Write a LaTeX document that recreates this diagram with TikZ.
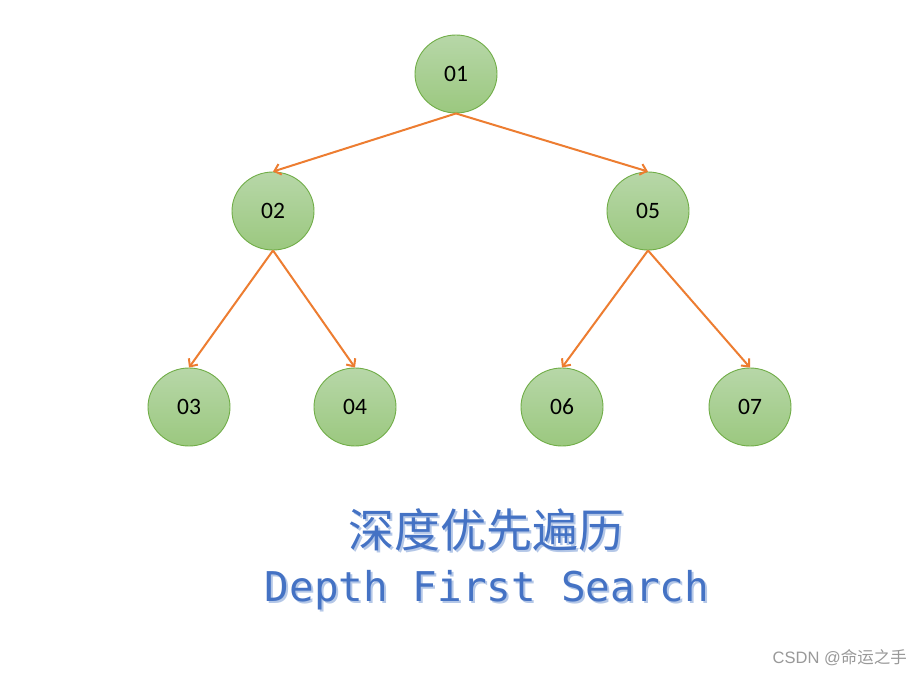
\documentclass[tikz,border=0pt]{standalone}
\usepackage{fontspec}
\setmainfont{Carlito}
\newfontfamily\cjkfont{Noto Sans CJK SC}
\newfontfamily\monofont{DejaVu Sans Mono}
\newfontfamily\wmfont{Liberation Sans}
\usetikzlibrary{shapes.geometric,arrows.meta}
\definecolor{nodetop}{HTML}{B7D7A8}
\definecolor{nodebot}{HTML}{9BC87F}
\definecolor{nodeline}{HTML}{70AD47}
\definecolor{edgecol}{HTML}{ED7D31}
\definecolor{titleblue}{HTML}{4472C4}
\definecolor{shadowblue}{HTML}{B4C7E7}
\definecolor{wmgray}{HTML}{999999}
\newcommand{\shadowtext}[1]{\rlap{\kern2pt\raisebox{-2pt}{\textcolor{shadowblue}{#1}}}\textcolor{titleblue}{#1}}
\tikzset{
  treenode/.style={ellipse, minimum width=82pt, minimum height=78pt, inner sep=0pt,
    top color=nodetop, bottom color=nodebot, draw=nodeline, line width=0.9pt,
    font=\fontsize{23.5}{23.5}\selectfont, text=black},
  edge/.style={draw=edgecol, line width=2pt, -{Straight Barb[length=6pt,width=11pt,line width=2pt]}},
  titlecn/.style={font=\cjkfont\fontsize{46}{46}\selectfont, inner sep=0pt},
  titleen/.style={font=\monofont\fontsize{41}{41}\selectfont, inner sep=0pt},
}
\begin{document}
\begin{tikzpicture}[x=1pt,y=-1pt]
\useasboundingbox[fill=white] (0,0) rectangle (923,676);
\node[treenode] (n01) at (456,74) {01};
\node[treenode] (n02) at (273,211) {02};
\node[treenode] (n05) at (648,211) {05};
\node[treenode] (n03) at (189,407) {03};
\node[treenode] (n04) at (355,407) {04};
\node[treenode] (n06) at (562,407) {06};
\node[treenode] (n07) at (750,407) {07};
\draw[edge] (n01.south) -- (n02.north);
\draw[edge] (n01.south) -- (n05.north);
\draw[edge] (n02.south) -- (n03.north);
\draw[edge] (n02.south) -- (n04.north);
\draw[edge] (n05.south) -- (n06.north);
\draw[edge] (n05.south) -- (n07.north);
\node[titlecn] (cn) at (486.5,531) {\shadowtext{深度优先遍历}};
\node[titleen, anchor=base] (en) at (487,601) {\shadowtext{Depth First Search}};
\node[anchor=base east, text=wmgray, font=\fontsize{16.5}{16.5}\selectfont, inner sep=0pt] (wm) at (907,663) {\wmfont CSDN @\cjkfont 命运之手};
\end{tikzpicture}
\end{document}
